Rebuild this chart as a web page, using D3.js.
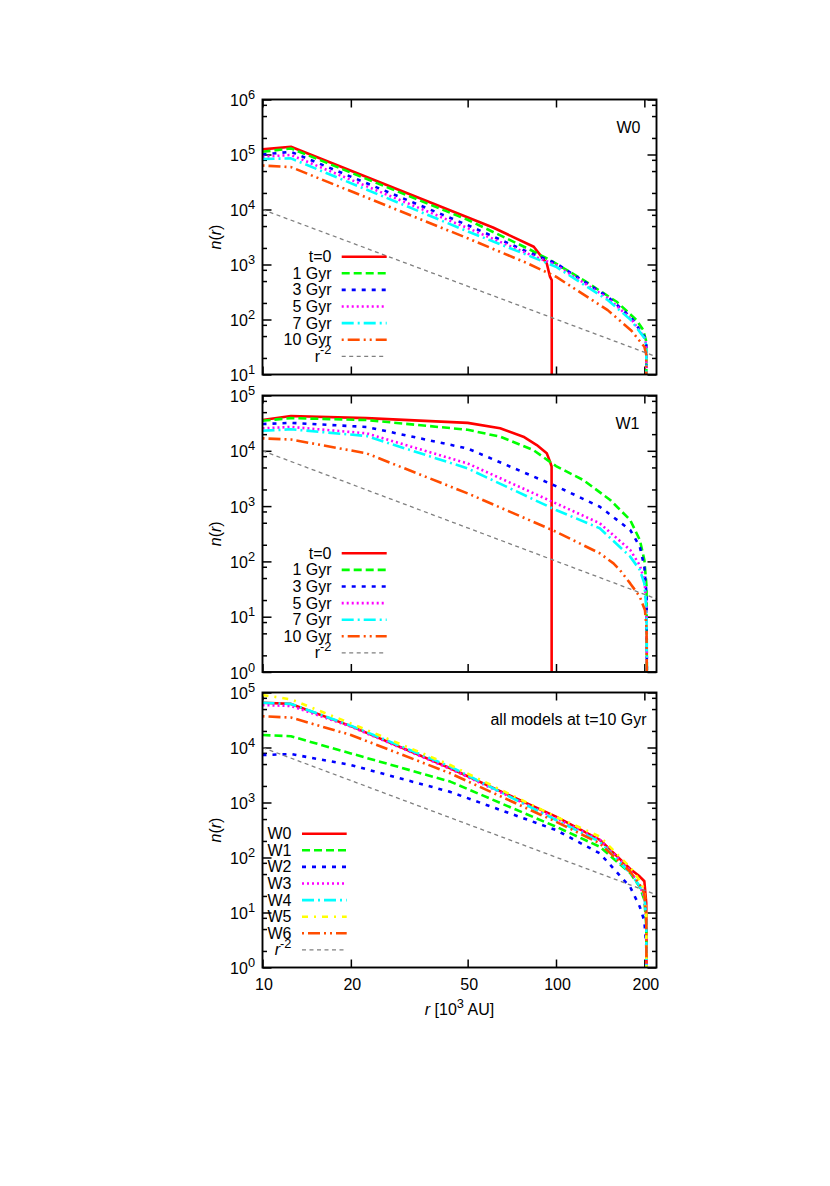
<!DOCTYPE html>
<html><head><meta charset="utf-8">
<script src="https://cdn.jsdelivr.net/npm/d3@7"></script>
<style>body{margin:0;background:#fff}</style>
</head><body>
<svg id="c" width="830" height="1186"></svg>
<script>
// ---------------- DATA ----------------
const xTickValues = [10, 20, 50, 100, 200];
const minorMantissas = [2, 5, 8];

// Panel 1 : W0
const p1_t0_r  = [10, 12.5, 61, 84, 93, 95.4, 96.7, 96.8];
const p1_t0_n  = [1.24e5, 1.38e5, 4.7e3, 2.1e3, 1.05e3, 600, 520, 1e-3];
const p1_1_r   = [10, 12.5, 50, 80, 95.5, 124, 161, 188, 198, 203, 204.5];
const p1_1_n   = [1.12e5, 1.29e5, 6.5e3, 1.96e3, 1.2e3, 522, 210, 98, 65, 40, 1e-3];
const p1_r     = [10, 12.5, 50, 80, 100, 150, 180, 200, 203, 204.5];
const p1_3_n   = [1.0e5, 1.12e5, 5.2e3, 1.7e3, 1.05e3, 260, 110, 49, 36, 1e-3];
const p1_5_n   = [9.1e4, 9.8e4, 4.6e3, 1.58e3, 980, 245, 104, 47, 35, 1e-3];
const p1_7_n   = [8.3e4, 8.5e4, 4.0e3, 1.48e3, 910, 226, 98, 46, 34, 1e-3];
const p1_10_n  = [6.3e4, 5.9e4, 3.0e3, 1.05e3, 600, 148, 64, 32, 23, 1e-3];

// Panel 2 : W1
const p2_t0_r  = [10, 12.5, 22.6, 50, 64.5, 77.4, 86, 93, 95.5, 96.6, 96.7];
const p2_t0_n  = [3.6e4, 4.26e4, 3.9e4, 3.2e4, 2.55e4, 1.8e4, 1.27e4, 9e3, 6.3e3, 5.2e3, 1e-3];
const p2_1_r   = [10, 12.5, 22.6, 50, 64.5, 83.7, 100, 124, 153, 179, 193, 200, 203.5, 205];
const p2_1_n   = [3.5e4, 3.9e4, 3.6e4, 2.4e4, 1.8e4, 1.03e4, 5.3e3, 2.95e3, 1.29e3, 560, 244, 106, 35, 1e-3];
const p2_r     = [10, 12.5, 22.6, 50, 100, 141, 179, 193, 200, 203.5, 205];
const p2_3_n   = [3.05e4, 3.2e4, 2.7e4, 1.1e4, 2.3e3, 975, 370, 185, 80, 25, 1e-3];
const p2_5_n   = [2.55e4, 2.7e4, 2.07e4, 5.9e3, 1.12e3, 489, 161, 85, 46, 15, 1e-3];
const p2_7_n   = [2.3e4, 2.45e4, 1.85e4, 4.8e3, 850, 397, 122, 70, 40, 12, 1e-3];
const p2_10_r  = [10, 12.5, 22.6, 50, 100, 141, 157, 165, 179, 193, 201, 203.5, 205];
const p2_10_n  = [1.68e4, 1.6e4, 9e3, 1.7e3, 344, 140, 92, 70, 40, 23, 13, 6, 1e-3];

// Panel 3 : all models at t = 10 Gyr
const p3_r     = [10, 12.5, 20, 43.6, 100, 141, 179, 193, 200, 203, 204.5];
const p3_W0_n  = [6.5e4, 6.2e4, 2.45e4, 4.2e3, 552, 210, 62, 45, 37, 15, 1e-3];
const p3_W1_n  = [1.69e4, 1.6e4, 7.8e3, 2.4e3, 363, 157, 52, 29, 17, 6, 1e-3];
const p3_W2_n  = [7.3e3, 7.6e3, 4.8e3, 1.56e3, 316, 119, 29, 12.7, 7, 2.5, 1e-3];
const p3_W3_n  = [5.9e4, 5.7e4, 2.4e4, 4.1e3, 516, 208, 59, 30, 19, 7, 1e-3];
const p3_W4_n  = [6.5e4, 6.2e4, 2.5e4, 4.5e3, 480, 194, 52, 30, 21, 7, 1e-3];
const p3_W5_n  = [9e4, 7.5e4, 2.75e4, 4.8e3, 550, 240, 66, 38, 26, 9, 1e-3];
const p3_W6_n  = [3.7e4, 3.5e4, 1.69e4, 3.4e3, 447, 181, 55, 32, 22, 8, 1e-3];

// r^-2 reference line (end points)
const ref_r = [10, 220];
const ref_n = [1e4, 21];

const p1Labels = ["t=0", "1 Gyr", "3 Gyr", "5 Gyr", "7 Gyr", "10 Gyr"];
const p3Labels = ["W0", "W1", "W2", "W3", "W4", "W5", "W6"];

// ---------------- STYLES ----------------
const FONT = '"Liberation Sans", Arial, Helvetica, sans-serif';
const ST = {
  red:    {c: "#ff0000", d: null,                 w: 2.6},
  green:  {c: "#00ff00", d: "8,4",                w: 2.6},
  blue:   {c: "#0000ff", d: "4,6",                w: 2.6},
  mag:    {c: "#ff00ff", d: "2,3",                w: 2.6},
  cyan:   {c: "#00ffff", d: "12,4,2,4",           w: 2.6},
  yellow: {c: "#ffff00", d: "6,6,2,6",            w: 2.6},
  orange: {c: "#ff4d00", d: "2,4,12,4,2,4",       w: 2.6},
  gray:   {c: "#808080", d: "4,3.5",              w: 1.3}
};

const zip = (r, n) => r.map((v, i) => [v, n[i]]);

const panels = [
  { top: 99.5, bottom: 374.5, dom: [10, 1e6],
    title: "W0", titleX: 640.5, titleY: 133,
    legY: 256.7, textX: 331.5, sx: [341.7, 386.7], r2Italic: false,
    labels: p1Labels,
    series: [
      {d: zip(p1_t0_r, p1_t0_n), s: ST.red},
      {d: zip(p1_1_r, p1_1_n),   s: ST.green},
      {d: zip(p1_r, p1_3_n),     s: ST.blue},
      {d: zip(p1_r, p1_5_n),     s: ST.mag},
      {d: zip(p1_r, p1_7_n),     s: ST.cyan},
      {d: zip(p1_r, p1_10_n),    s: ST.orange},
      {d: zip(ref_r, ref_n),     s: ST.gray}
    ]},
  { top: 395.5, bottom: 672, dom: [1, 1e5],
    title: "W1", titleX: 639.5, titleY: 429,
    legY: 553.3, textX: 331.5, sx: [341.7, 386.7], r2Italic: false,
    labels: p1Labels,
    series: [
      {d: zip(p2_t0_r, p2_t0_n), s: ST.red},
      {d: zip(p2_1_r, p2_1_n),   s: ST.green},
      {d: zip(p2_r, p2_3_n),     s: ST.blue},
      {d: zip(p2_r, p2_5_n),     s: ST.mag},
      {d: zip(p2_r, p2_7_n),     s: ST.cyan},
      {d: zip(p2_10_r, p2_10_n), s: ST.orange},
      {d: zip(ref_r, ref_n),     s: ST.gray}
    ]},
  { top: 692.5, bottom: 967.5, dom: [1, 1e5],
    title: "all models at t=10 Gyr", titleX: 646.5, titleY: 725,
    legY: 833.7, textX: 291.5, sx: [302, 346.7], r2Italic: true,
    labels: p3Labels, xlabels: true,
    series: [
      {d: zip(p3_r, p3_W0_n), s: ST.red},
      {d: zip(p3_r, p3_W1_n), s: ST.green},
      {d: zip(p3_r, p3_W2_n), s: ST.blue},
      {d: zip(p3_r, p3_W3_n), s: ST.mag},
      {d: zip(p3_r, p3_W4_n), s: ST.cyan},
      {d: zip(p3_r, p3_W5_n), s: ST.yellow},
      {d: zip(p3_r, p3_W6_n), s: ST.orange},
      {d: zip(ref_r, ref_n),  s: ST.gray}
    ]}
];

// ---------------- DRAW ----------------
const svg = d3.select("#c").style("font-family", FONT);
svg.append("rect").attr("width", 830).attr("height", 1186).attr("fill", "#fff");
const x = d3.scaleLog().domain([10, 220]).range([262.5, 656.5]);
const X0 = x.range()[0], X1 = x.range()[1];

panels.forEach((p, pi) => {
  const y = d3.scaleLog().domain(p.dom).range([p.bottom, p.top]);
  const g = svg.append("g");
  const cid = "clip" + pi;
  svg.append("clipPath").attr("id", cid).append("rect")
    .attr("x", X0).attr("y", p.top).attr("width", X1 - X0).attr("height", p.bottom - p.top);

  const e0 = Math.round(Math.log10(p.dom[0])), e1 = Math.round(Math.log10(p.dom[1]));
  const majors = d3.range(e0, e1 + 1).map(e => Math.pow(10, e));
  const minors = [];
  d3.range(e0, e1).forEach(e => minorMantissas.forEach(m => minors.push(m * Math.pow(10, e))));

  const mk = (axis, tr) => {
    const a = g.append("g").attr("transform", tr).call(axis);
    a.select(".domain").remove();
    a.selectAll("line").attr("stroke", "#000").attr("stroke-width", 1.5);
    a.selectAll("text").remove();
  };
  mk(d3.axisLeft(y).tickValues(majors).tickSize(-9).tickFormat(""), `translate(${X0},0)`);
  mk(d3.axisLeft(y).tickValues(minors).tickSize(-4.5).tickFormat(""), `translate(${X0},0)`);
  mk(d3.axisRight(y).tickValues(majors).tickSize(-9).tickFormat(""), `translate(${X1},0)`);
  mk(d3.axisRight(y).tickValues(minors).tickSize(-4.5).tickFormat(""), `translate(${X1},0)`);
  mk(d3.axisBottom(x).tickValues(xTickValues).tickSize(-8).tickFormat(""), `translate(0,${p.bottom})`);
  mk(d3.axisTop(x).tickValues(xTickValues).tickSize(-8).tickFormat(""), `translate(0,${p.top})`);

  majors.forEach(v => {
    const t = g.append("text").attr("x", 255).attr("y", y(v) + 6.5)
      .attr("text-anchor", "end").attr("font-size", 16).attr("fill", "#000");
    t.append("tspan").text("10");
    t.append("tspan").attr("dy", -7).attr("font-size", 12.8).text(Math.round(Math.log10(v)));
  });

  const line = d3.line().x(d => x(d[0])).y(d => y(Math.max(d[1], 1e-4)));
  const cg = g.append("g").attr("clip-path", `url(#${cid})`);
  p.series.forEach(s => {
    cg.append("path").attr("d", line(s.d)).attr("fill", "none")
      .attr("stroke", s.s.c).attr("stroke-width", s.s.w)
      .attr("stroke-dasharray", s.s.d).attr("stroke-linejoin", "round");
  });

  g.append("rect").attr("x", X0).attr("y", p.top).attr("width", X1 - X0).attr("height", p.bottom - p.top)
    .attr("fill", "none").attr("stroke", "#000").attr("stroke-width", 1.9);

  g.append("text").attr("x", p.titleX).attr("y", p.titleY).attr("text-anchor", "end")
    .attr("font-size", 16).text(p.title);

  const cy = (p.top + p.bottom) / 2;
  const yl = g.append("text").attr("transform", `translate(221,${cy}) rotate(-90)`)
    .attr("text-anchor", "middle").attr("font-size", 16);
  yl.append("tspan").attr("font-style", "italic").text("n");
  yl.append("tspan").text("(");
  yl.append("tspan").attr("font-style", "italic").text("r");
  yl.append("tspan").text(")");

  const dy = 16.6;
  const allLabels = p.labels.concat(["r"]);
  allLabels.forEach((lab, i) => {
    const ly = p.legY + i * dy;
    const s = p.series[i].s;
    const t = g.append("text").attr("x", p.textX).attr("y", ly + 5.5)
      .attr("text-anchor", "end").attr("font-size", 16);
    if (i === allLabels.length - 1) {
      t.append("tspan").attr("font-style", p.r2Italic ? "italic" : "normal").text("r");
      t.append("tspan").attr("dy", -7.5).attr("font-size", 12.8).text("-2");
    } else {
      t.text(lab);
    }
    g.append("line").attr("x1", p.sx[0]).attr("x2", p.sx[1]).attr("y1", ly).attr("y2", ly)
      .attr("stroke", s.c).attr("stroke-width", s.w).attr("stroke-dasharray", s.d);
  });

  if (p.xlabels) {
    xTickValues.forEach(v => {
      g.append("text").attr("x", x(v) + 1.5).attr("y", 990).attr("text-anchor", "middle")
        .attr("font-size", 16).text(v);
    });
    const xl = g.append("text").attr("x", 459.5).attr("y", 1015).attr("text-anchor", "middle")
      .attr("font-size", 16);
    xl.append("tspan").attr("font-style", "italic").text("r");
    xl.append("tspan").text(" [10");
    xl.append("tspan").attr("dy", -7).attr("font-size", 12.8).text("3");
    xl.append("tspan").attr("dy", 7).text(" AU]");
  }
});
</script>
</body></html>
